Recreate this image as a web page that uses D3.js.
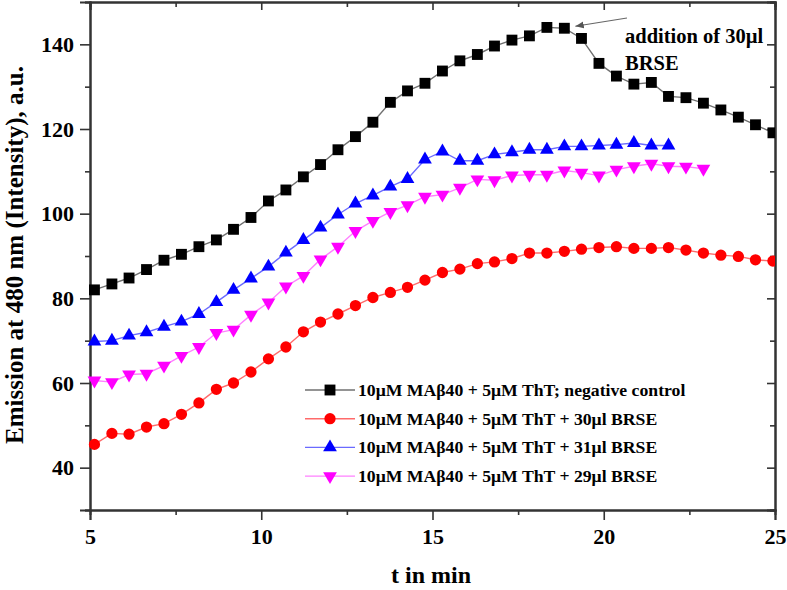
<!DOCTYPE html>
<html><head><meta charset="utf-8">
<script src="https://cdn.jsdelivr.net/npm/d3@7"></script>
<style>
html,body{margin:0;padding:0;background:#fff;}
svg{display:block;}
text{font-family:"Liberation Serif","Times New Roman",serif;font-weight:bold;fill:#000;}
</style></head><body>
<svg id="chart" width="787" height="590"></svg>
<script>
// ---- data ----
const times = [5.13,5.64,6.14,6.65,7.16,7.67,8.18,8.69,9.19,9.70,10.21,10.72,11.23,11.73,12.24,12.75,13.26,13.77,14.27,14.78,15.29,15.80,16.31,16.81,17.32,17.83,18.34,18.85,19.35,19.86,20.37,20.88,21.39,21.89,22.40,22.91,23.42,23.93,24.43,24.94];
const negControl = [82.0,83.4,84.8,86.8,89.0,90.4,92.2,93.8,96.3,99.1,103.0,105.6,108.7,111.6,115.1,118.2,121.6,126.3,129.0,130.8,133.7,136.1,137.6,139.6,141.0,142.0,144.0,143.8,141.4,135.5,132.5,130.6,131.0,127.7,127.4,126.1,124.5,122.8,121.0,119.1];
const brse30 = [45.5,48.1,47.9,49.6,50.4,52.6,55.3,58.5,60.0,62.6,65.7,68.5,72.1,74.4,76.3,78.3,80.2,81.4,82.6,84.3,86.1,86.9,88.2,88.6,89.4,90.7,90.7,91.1,91.6,92.0,92.2,91.8,91.8,92.0,91.4,90.7,90.2,89.9,89.1,88.8];
const brse31 = [69.8,70.0,71.2,72.0,73.3,74.5,76.3,79.1,82.0,84.7,87.5,90.8,93.8,96.7,99.8,102.4,104.3,106.4,108.2,112.8,114.7,112.5,112.5,114.0,114.5,115.1,115.1,115.9,115.9,116.1,116.3,116.7,116.1,116.1];
const brse29 = [60.6,60.2,62.0,62.2,64.1,66.4,68.5,71.8,72.6,76.1,79.0,82.8,85.3,89.2,92.2,95.9,98.3,100.4,102.0,104.0,104.5,106.1,108.1,107.9,109.0,109.2,109.2,110.2,109.7,109.0,110.4,111.2,111.8,111.2,111.1,110.6];
const seriesNames = ["10\u03BCM MA\u03B240 + 5\u03BCM ThT; negative control","10\u03BCM MA\u03B240 + 5\u03BCM ThT + 30\u03BCl BRSE","10\u03BCM MA\u03B240 + 5\u03BCM ThT + 31\u03BCl BRSE","10\u03BCM MA\u03B240 + 5\u03BCM ThT + 29\u03BCl BRSE"];
const xTicks = [5,10,15,20,25];
const yTicks = [40,60,80,100,120,140];
const xLabel = "t in min";
const yLabel = "Emission at 480 nm (Intensity), a.u.";
const annotationLines = ["addition of 30\u00B5l","BRSE"];
const annotationIndex = 27;

// ---- layout ----
const svg = d3.select("#chart");
const L = 90, R = 775, T = 2, B = 510;
const x = d3.scaleLinear().domain([5,25]).range([L,R]);
const y = d3.scaleLinear().domain([30,150]).range([B,T]);

const series = [
  {name:seriesNames[0], vals:negControl, sym:d3.symbolSquare, size:118, rot:0, fill:"#000", line:"#707070"},
  {name:seriesNames[1], vals:brse30, sym:d3.symbolCircle, size:100, rot:0, fill:"#ff0000", line:"#ff6a6a"},
  {name:seriesNames[2], vals:brse31, sym:d3.symbolTriangle, size:82, rot:0, fill:"#0000ff", line:"#6a6aff"},
  {name:seriesNames[3], vals:brse29, sym:d3.symbolTriangle, size:82, rot:180, fill:"#ff00ff", line:"#ff80ff"}
];

// axes
const axisColor = "#333";
function styleAxis(g){
  g.selectAll("path.domain").attr("stroke",axisColor).attr("stroke-width",2);
  g.selectAll(".tick line").attr("stroke",axisColor).attr("stroke-width",1.6);
  g.selectAll(".tick text").style("font-size","22px").style("font-family","'Liberation Serif',serif").style("font-weight","bold").attr("fill","#000");
}
const xMinor = d3.range(5,25.01,2.5).filter(v=>!xTicks.includes(v));
const yMinor = d3.range(30,150.01,10).filter(v=>!yTicks.includes(v));

// bottom
svg.append("g").attr("transform",`translate(0,${B})`)
  .call(d3.axisBottom(x).tickValues(xTicks).tickSize(10).tickPadding(8).tickFormat(d3.format("d")))
  .call(styleAxis);
svg.append("g").attr("transform",`translate(0,${B})`)
  .call(d3.axisBottom(x).tickValues(xMinor).tickSize(5).tickFormat(""))
  .call(styleAxis);
// top (inward)
svg.append("g").attr("transform",`translate(0,${T})`)
  .call(d3.axisBottom(x).tickValues(xTicks).tickSize(8).tickFormat(""))
  .call(styleAxis);
svg.append("g").attr("transform",`translate(0,${T})`)
  .call(d3.axisBottom(x).tickValues(xMinor).tickSize(5).tickFormat(""))
  .call(styleAxis);
// left
svg.append("g").attr("transform",`translate(${L},0)`)
  .call(d3.axisLeft(y).tickValues(yTicks).tickSize(10).tickPadding(6).tickFormat(d3.format("d")))
  .call(styleAxis);
svg.append("g").attr("transform",`translate(${L},0)`)
  .call(d3.axisLeft(y).tickValues(yMinor).tickSize(5).tickFormat(""))
  .call(styleAxis);
// right (inward)
svg.append("g").attr("transform",`translate(${R},0)`)
  .call(d3.axisLeft(y).tickValues(yTicks).tickSize(8).tickFormat(""))
  .call(styleAxis);
svg.append("g").attr("transform",`translate(${R},0)`)
  .call(d3.axisLeft(y).tickValues(yMinor).tickSize(5).tickFormat(""))
  .call(styleAxis);

// axis titles
svg.append("text").attr("x",431).attr("y",583).attr("text-anchor","middle")
  .style("font-size","24px").text(xLabel);
svg.append("text").attr("transform",`translate(23,255) rotate(-90)`).attr("text-anchor","middle")
  .style("font-size","25px").text(yLabel);

// series
const clipId = "plotclip";
svg.append("clipPath").attr("id",clipId).append("rect").attr("x",L-8).attr("y",T).attr("width",R-L+8).attr("height",B-T);
const plot = svg.append("g").attr("clip-path",`url(#${clipId})`);
const line = d3.line().x((d,i)=>x(times[i])).y(d=>y(d));
series.forEach(s=>{
  plot.append("path").datum(s.vals).attr("d",line).attr("fill","none").attr("stroke",s.line).attr("stroke-width",1.4);
});
series.forEach(s=>{
  plot.append("g").selectAll("path").data(s.vals).join("path")
    .attr("transform",(d,i)=>`translate(${x(times[i])},${y(d)}) rotate(${s.rot})`)
    .attr("d",d3.symbol().type(s.sym).size(s.size)).attr("fill",s.fill);
});

// annotation
const ax = x(times[annotationIndex]), ay = y(negControl[annotationIndex]);
svg.append("defs").append("marker").attr("id","arr").attr("viewBox","0 0 10 10").attr("refX",10).attr("refY",5)
  .attr("markerWidth",7).attr("markerHeight",7).attr("orient","auto")
  .append("path").attr("d","M0,1 L10,5 L0,9 Z").attr("fill","#555");
svg.append("line").attr("x1",627).attr("y1",18).attr("x2",ax+11).attr("y2",ay-2)
  .attr("stroke","#666").attr("stroke-width",1.2).attr("marker-end","url(#arr)");
svg.append("text").attr("x",625).attr("y",43).style("font-size","20.5px").text(annotationLines[0]);
svg.append("text").attr("x",625).attr("y",70).style("font-size","20.5px").text(annotationLines[1]);

// legend
const legY0 = 390, legDy = 28.7;
const leg = svg.append("g");
series.forEach((s,i)=>{
  const yy = legY0 + i*legDy;
  leg.append("line").attr("x1",305).attr("x2",355).attr("y1",yy).attr("y2",yy).attr("stroke",s.line).attr("stroke-width",1.4);
  leg.append("path").attr("transform",`translate(330,${yy}) rotate(${s.rot})`).attr("d",d3.symbol().type(s.sym).size(s.size)).attr("fill",s.fill);
  leg.append("text").attr("x",358).attr("y",yy+6).style("font-size","17.7px").text(s.name);
});
</script>
</body></html>
